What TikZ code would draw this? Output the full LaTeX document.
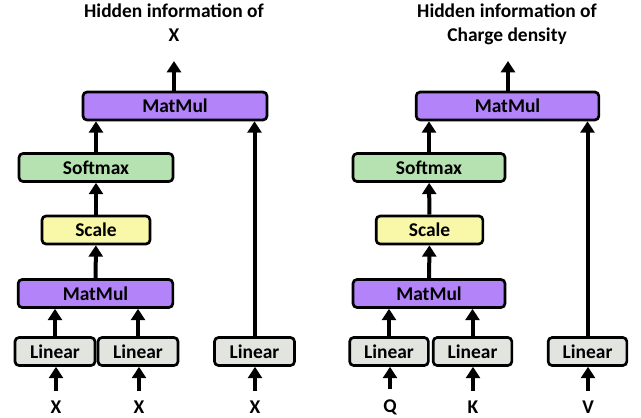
\documentclass[tikz,border=0pt]{standalone}
\usepackage{fontspec}
\setmainfont{Carlito}
\usepackage{xcolor}
\usetikzlibrary{arrows.meta}

\definecolor{mmpurple}{HTML}{B383FA}
\definecolor{smgreen}{HTML}{B5E2B0}
\definecolor{scyellow}{HTML}{F9F7A8}
\definecolor{lingray}{HTML}{E2E4E0}

\begin{document}
\begin{tikzpicture}[x=0.75pt,y=-0.75pt]
    \tikzstyle{every node}=[font=\fontsize{14.6}{18}\selectfont\bfseries]
    \tikzstyle{blk}=[draw,rounded corners=3pt,line width=2pt,inner sep=0pt,minimum height=21pt]
    \tikzstyle{arr}=[line width=3pt,-{Triangle[width=10.5pt,length=8.5pt]}]
    \useasboundingbox (0,0) rectangle (641,417);

    % left block: everything from X
    \node[anchor=north,inner sep=0pt,align=center] (ttlA) at (174,4) {Hidden information of\\X};
    \node[blk,fill=mmpurple,minimum width=138pt] (mmtopA) at (175,106) {MatMul};
    \node[blk,fill=smgreen,minimum width=115.5pt] (smA) at (96,167.5) {Softmax};
    \node[blk,fill=scyellow,minimum width=81pt] (scA) at (96,230) {Scale};
    \node[blk,fill=mmpurple,minimum width=116pt] (mmA) at (95.5,293.5) {MatMul};
    \node[blk,fill=lingray,minimum width=60pt] (linA1) at (55,351.5) {Linear};
    \node[blk,fill=lingray,minimum width=60pt] (linA2) at (138,351.5) {Linear};
    \node[blk,fill=lingray,minimum width=60pt] (linA3) at (254.5,351.5) {Linear};
    \node (inA1) at (56,407) {X};
    \node (inA2) at (139,407) {X};
    \node (inA3) at (255,407) {X};
    \coordinate (outA) at (174,61);

    \draw[arr,shorten <=4pt] (inA1) -- (inA1 |- linA1.south);
    \draw[arr,shorten <=4pt] (inA2) -- (inA2 |- linA2.south);
    \draw[arr,shorten <=4pt] (inA3) -- (inA3 |- linA3.south);
    \draw[arr] (linA1) -- (linA1 |- mmA.south);
    \draw[arr] (linA2) -- (linA2 |- mmA.south);
    \draw[arr] (mmA) -- (scA);
    \draw[arr] (scA) -- (smA);
    \draw[arr] (smA.north) -- (smA.north |- mmtopA.south);
    \draw[arr] (linA3) -- (linA3 |- mmtopA.south);
    \draw[arr] (mmtopA.north -| outA) -- (outA);

    % right block: Q, K and V
    \node[anchor=north,inner sep=0pt,align=center] (ttlB) at (507,4) {Hidden information of\\Charge density};
    \node[blk,fill=mmpurple,minimum width=137pt] (mmtopB) at (507.5,106) {MatMul};
    \node[blk,fill=smgreen,minimum width=114pt] (smB) at (429,167.5) {Softmax};
    \node[blk,fill=scyellow,minimum width=80pt] (scB) at (429.5,230) {Scale};
    \node[blk,fill=mmpurple,minimum width=114pt] (mmB) at (429,293.5) {MatMul};
    \node[blk,fill=lingray,minimum width=59pt] (linB1) at (389,351.5) {Linear};
    \node[blk,fill=lingray,minimum width=59pt] (linB2) at (472.5,351.5) {Linear};
    \node[blk,fill=lingray,minimum width=59pt] (linB3) at (587.5,351.5) {Linear};
    \node (inB1) at (390,407) {Q};
    \node (inB2) at (473,407) {K};
    \node (inB3) at (588,407) {V};
    \coordinate (outB) at (508,61);

    \draw[arr,shorten <=4pt] (inB1) -- (inB1 |- linB1.south);
    \draw[arr,shorten <=4pt] (inB2) -- (inB2 |- linB2.south);
    \draw[arr,shorten <=4pt] (inB3) -- (inB3 |- linB3.south);
    \draw[arr] (linB1) -- (linB1 |- mmB.south);
    \draw[arr] (linB2) -- (linB2 |- mmB.south);
    \draw[arr] (mmB) -- (scB);
    \draw[arr] (scB) -- (smB);
    \draw[arr] (smB.north) -- (smB.north |- mmtopB.south);
    \draw[arr] (linB3) -- (linB3 |- mmtopB.south);
    \draw[arr] (mmtopB.north -| outB) -- (outB);

\end{tikzpicture}
\end{document}
